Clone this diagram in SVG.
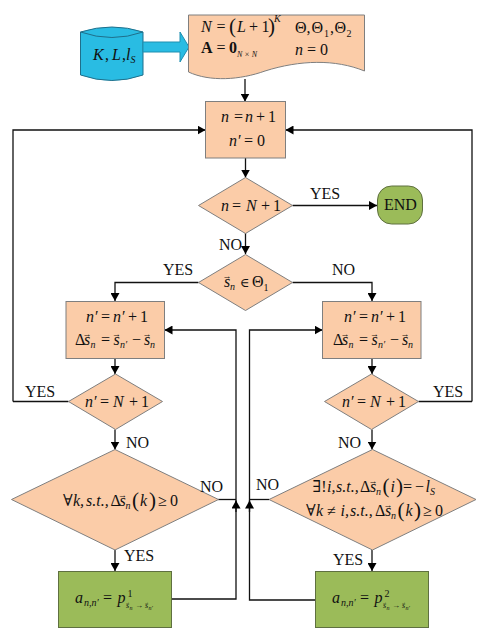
<svg xmlns="http://www.w3.org/2000/svg" width="484" height="642" viewBox="0 0 484 642">
<style>
text{font-family:"Liberation Serif","DejaVu Serif",serif;font-size:16px;fill:#111}
.i{font-style:italic}
.b{font-weight:bold}
.s{font-size:10px}
.t{font-size:8px}
.u{font-size:6px}
.p{font-size:21px}
.v{font-size:9px;text-anchor:middle}
.w{font-size:5px;text-anchor:middle}
.n{fill:#FBCCA8;stroke:#7f7f7f;stroke-width:1}
.g{fill:#9BBB59;stroke:#5f7040;stroke-width:1}
.c{fill:none;stroke:#111;stroke-width:1.3}
.a{marker-end:url(#h)}
</style>
<defs>
<marker id="h" markerUnits="userSpaceOnUse" markerWidth="9" markerHeight="9" refX="8" refY="4.5" orient="auto"><path d="M0,0L8,4.5L0,9Z" fill="#000"/></marker>
</defs>
<g id="connectors">
<path class="c a" d="M245,79V101.5"/>
<path class="c a" d="M13,401.5V130H205.5"/>
<path class="c a" d="M472,401.5V130H285.5"/>
<path class="c a" d="M245.5,158V177.5"/>
<path class="c a" d="M292.5,205.5H377"/>
<path class="c a" d="M245.5,233V254"/>
<path class="c a" d="M198.5,282.5H115V301"/>
<path class="c a" d="M292.5,282.5H372V301"/>
<path class="c a" d="M115,358V374"/>
<path class="c a" d="M372,358V374"/>
<path class="c" d="M68.5,401.5H13"/>
<path class="c" d="M418.5,401.5H472"/>
<path class="c a" d="M115,429.5V449.5"/>
<path class="c a" d="M372,429.5V449.5"/>
<path class="c a" d="M115,550V571"/>
<path class="c a" d="M372,550V571"/>
<path class="c" d="M218,499.5H236"/>
<path class="c" d="M269,499.5H249.5"/>
<path class="c a" d="M171.5,599H236V330H164.5"/>
<path class="c a" d="M315,600H249.5V330H322.5"/>
<path class="c a" d="M236,512V500.5"/>
<path class="c a" d="M249.5,512V500.5"/>
</g>
<g id="input">
<path d="M80.5,32Q112,22 143,32V75Q112,86 80.5,75Z" fill="#29BCE3" stroke="#1f6f8b"/>
<path d="M80.5,32Q112,43 143,32" fill="none" stroke="#1f6f8b"/>
<text y="60"><tspan class="i" x="93">K</tspan><tspan x="105">,</tspan><tspan class="i" x="112">L</tspan><tspan x="122">,</tspan><tspan class="i" x="126">l</tspan><tspan class="i s" x="130.5" y="63">S</tspan></text>
</g>
<g id="input-arrow">
<path d="M143,42H180V32L189,47L180,62V52H143Z" fill="#29BCE3" stroke="#1f8fb0"/>
</g>
<g id="init">
<path class="n" d="M188.5,15H364.5V71C335,59 300,60 265,71C240,80 210,82 188.5,72Z"/>
<text y="32"><tspan class="i" x="201">N</tspan><tspan x="216.5">=</tspan><tspan class="p" x="229" y="33">(</tspan><tspan class="i" x="237" y="32">L</tspan><tspan x="249">+</tspan><tspan x="261.5">1</tspan><tspan class="p" x="268" y="33">)</tspan><tspan class="i s" x="274" y="22">K</tspan></text>
<text y="33"><tspan x="295">Θ,</tspan><tspan x="311.5">Θ</tspan><tspan class="s" x="324" y="37">1</tspan><tspan x="330" y="33">,</tspan><tspan x="334.5">Θ</tspan><tspan class="s" x="346.5" y="37">2</tspan></text>
<text y="53"><tspan class="b" x="201">A</tspan><tspan x="216.5">=</tspan><tspan class="b" x="229">0</tspan></text>
<text x="237" y="57" class="i t">N × N</text>
<text y="55"><tspan class="i" x="295">n</tspan><tspan x="307">=</tspan><tspan x="320">0</tspan></text>
</g>
<g id="update-n">
<rect class="n" x="205.5" y="101.5" width="80" height="56.5"/>
<text y="122"><tspan class="i" x="221">n</tspan><tspan x="234">=</tspan><tspan class="i" x="245">n</tspan><tspan x="256">+</tspan><tspan x="268">1</tspan></text>
<text y="146"><tspan class="i" x="229">n′</tspan><tspan x="244">=</tspan><tspan x="257">0</tspan></text>
</g>
<g id="check-end">
<path class="n" d="M245.5,177.5L292.5,205.5L245.5,233.5L198.5,205.5Z"/>
<text y="211"><tspan class="i" x="221">n</tspan><tspan x="232">=</tspan><tspan class="i" x="246">N</tspan><tspan x="261">+</tspan><tspan x="273">1</tspan></text>
</g>
<g id="end">
<rect x="377.5" y="186" width="45" height="38" rx="14" class="g"/>
<text x="384" y="210">END</text>
</g>
<g id="check-theta">
<path class="n" d="M245.5,254.5L292.5,282.5L245.5,310.5L198.5,282.5Z"/>
<text y="287"><tspan class="i" x="224">s</tspan><tspan class="i s" x="230" y="290">n</tspan><tspan x="240" y="287" font-size="13">∈</tspan><tspan x="252">Θ</tspan><tspan class="s" x="263.5" y="291">1</tspan></text>
<text class="v" x="227" y="279">→</text>
</g>
<g id="left-update">
<rect class="n" x="66" y="301.5" width="98.5" height="57"/>
<text y="322"><tspan class="i" x="86">n′</tspan><tspan x="101">=</tspan><tspan class="i" x="113">n′</tspan><tspan x="128">+</tspan><tspan x="140">1</tspan></text>
<text y="345"><tspan x="75">Δ</tspan><tspan class="i" x="84">s</tspan><tspan class="i s" x="90.5" y="348">n</tspan><tspan x="101" y="345">=</tspan><tspan class="i" x="113.5">s</tspan><tspan class="i s" x="120" y="348">n′</tspan><tspan x="132" y="345">−</tspan><tspan class="i" x="144">s</tspan><tspan class="i s" x="150" y="348">n</tspan></text>
<text class="v" x="87" y="337">→</text><text class="v" x="116.5" y="337">→</text><text class="v" x="147" y="337">→</text>
</g>
<g id="right-update">
<rect class="n" x="322.5" y="301.5" width="98.5" height="57"/>
<text y="322"><tspan class="i" x="344">n′</tspan><tspan x="359">=</tspan><tspan class="i" x="371">n′</tspan><tspan x="386">+</tspan><tspan x="398">1</tspan></text>
<text y="345"><tspan x="333">Δ</tspan><tspan class="i" x="342">s</tspan><tspan class="i s" x="348.5" y="348">n</tspan><tspan x="359" y="345">=</tspan><tspan class="i" x="371.5">s</tspan><tspan class="i s" x="378" y="348">n′</tspan><tspan x="390" y="345">−</tspan><tspan class="i" x="402">s</tspan><tspan class="i s" x="408" y="348">n</tspan></text>
<text class="v" x="345" y="337">→</text><text class="v" x="374.5" y="337">→</text><text class="v" x="405" y="337">→</text>
</g>
<g id="left-check">
<path class="n" d="M115.5,374L162.5,401.5L115.5,429.5L68.5,401.5Z"/>
<text y="407"><tspan class="i" x="85">n′</tspan><tspan x="100">=</tspan><tspan class="i" x="113">N</tspan><tspan x="129">+</tspan><tspan x="141">1</tspan></text>
</g>
<g id="right-check">
<path class="n" d="M371.5,374L418.5,401.5L371.5,429.5L324.5,401.5Z"/>
<text y="407"><tspan class="i" x="342">n′</tspan><tspan x="357">=</tspan><tspan class="i" x="370">N</tspan><tspan x="386">+</tspan><tspan x="398">1</tspan></text>
</g>
<g id="left-cond">
<path class="n" d="M115,449.5L218.5,499.5L115,550L11.5,499.5Z"/>
<text y="506"><tspan x="63">∀</tspan><tspan class="i" x="73">k,</tspan><tspan class="i" x="86">s.t.,</tspan><tspan x="110.5">Δ</tspan><tspan class="i" x="119.5">s</tspan><tspan class="i s" x="125.5" y="509">n</tspan><tspan class="p" x="132" y="507">(</tspan><tspan class="i" x="140" y="506">k</tspan><tspan class="p" x="149" y="507">)</tspan><tspan x="158" y="506">≥</tspan><tspan x="170">0</tspan></text>
<text class="v" x="122.5" y="498">→</text>
</g>
<g id="right-cond">
<path class="n" d="M372.5,449.5L476,499.5L372.5,550L269,499.5Z"/>
<text y="492"><tspan x="312.5">∃!</tspan><tspan class="i" x="327">i,</tspan><tspan class="i" x="336">s.t.,</tspan><tspan x="360">Δ</tspan><tspan class="i" x="370">s</tspan><tspan class="i s" x="376" y="495">n</tspan><tspan class="p" x="382.5" y="493">(</tspan><tspan class="i" x="390.5" y="492">i</tspan><tspan class="p" x="396" y="493">)</tspan><tspan x="403" y="492">=</tspan><tspan x="415">−</tspan><tspan class="i" x="425.5">l</tspan><tspan class="i s" x="430" y="495">S</tspan></text>
<text class="v" x="373" y="484">→</text>
<text y="516"><tspan x="306">∀</tspan><tspan class="i" x="316">k</tspan><tspan x="327">≠</tspan><tspan class="i" x="340.5">i,</tspan><tspan class="i" x="350">s.t.,</tspan><tspan x="375">Δ</tspan><tspan class="i" x="385">s</tspan><tspan class="i s" x="391" y="519">n</tspan><tspan class="p" x="397.5" y="517">(</tspan><tspan class="i" x="405.5" y="516">k</tspan><tspan class="p" x="414" y="517">)</tspan><tspan x="423" y="516">≥</tspan><tspan x="435">0</tspan></text>
<text class="v" x="388" y="508">→</text>
</g>
<g id="left-result">
<rect class="g" x="58.5" y="571.5" width="113" height="56"/>
<text y="603"><tspan class="i" x="75">a</tspan><tspan class="i s" x="84" y="606">n,n′</tspan><tspan x="103" y="603">=</tspan><tspan class="i" x="117.5">p</tspan></text>
<text x="127.5" y="597" class="s">1</text>
<text y="608" class="i t"><tspan x="126">s</tspan><tspan class="u" x="129.5" y="610">n</tspan><tspan x="135" y="608" font-style="normal">→</tspan><tspan x="145">s</tspan><tspan class="u" x="148.5" y="610">n′</tspan></text>
<text class="w" x="127.5" y="603.5">→</text><text class="w" x="146.5" y="603.5">→</text>
</g>
<g id="right-result">
<rect class="g" x="315.5" y="571.5" width="113" height="56"/>
<text y="603"><tspan class="i" x="332">a</tspan><tspan class="i s" x="341" y="606">n,n′</tspan><tspan x="360" y="603">=</tspan><tspan class="i" x="374.5">p</tspan></text>
<text x="384.5" y="597" class="s">2</text>
<text y="608" class="i t"><tspan x="383">s</tspan><tspan class="u" x="386.5" y="610">n</tspan><tspan x="392" y="608" font-style="normal">→</tspan><tspan x="402">s</tspan><tspan class="u" x="405.5" y="610">n′</tspan></text>
<text class="w" x="384.5" y="603.5">→</text><text class="w" x="403.5" y="603.5">→</text>
</g>
<g id="labels">
<text x="310" y="199">YES</text>
<text x="219" y="250">NO</text>
<text x="163" y="275">YES</text>
<text x="332" y="275">NO</text>
<text x="25" y="397">YES</text>
<text x="433" y="397">YES</text>
<text x="126" y="448">NO</text>
<text x="338" y="448">NO</text>
<text x="200" y="492">NO</text>
<text x="256" y="490">NO</text>
<text x="124" y="561">YES</text>
<text x="333" y="565">YES</text>
</g>
</svg>
